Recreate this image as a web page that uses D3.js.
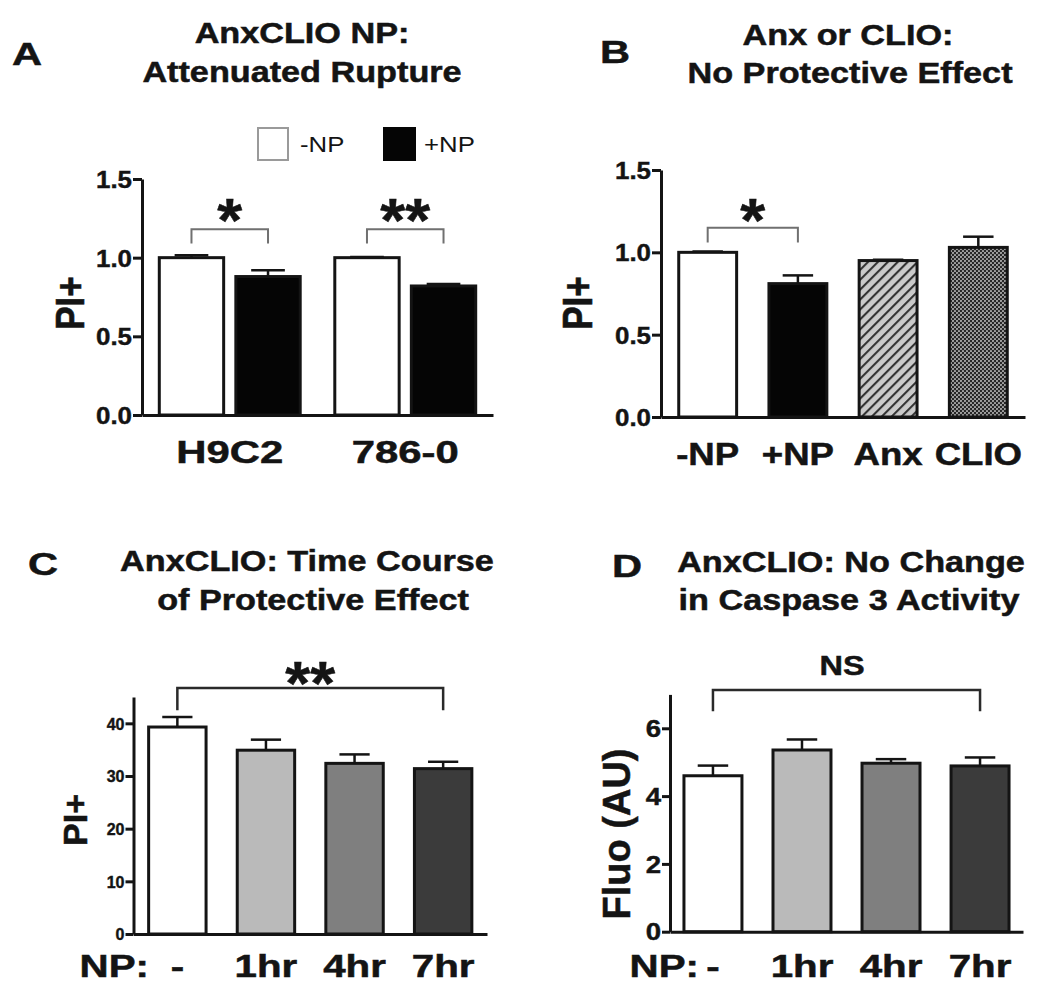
<!DOCTYPE html>
<html>
<head>
<meta charset="utf-8">
<script src="https://cdnjs.cloudflare.com/ajax/libs/d3/7.8.5/d3.min.js"></script>
<style>
  body { margin: 0; background: #fff; }
  svg { display: block; font-family: 'Liberation Sans', Arial, sans-serif; }
</style>
</head>
<body>
<script>
// A: AnxCLIO NP, attenuated rupture
const cellLines = ['H9C2', '786-0'];
const npGroups = ['-NP', '+NP'];
const ruptureMinusNP = [1.0, 1.0];
const ruptureMinusErr = [0.015, 0.005];
const rupturePlusNP = [0.88, 0.82];
const rupturePlusErr = [0.04, 0.012];
const ruptureTicks = [0, 0.5, 1.0, 1.5];

// B: Anx or CLIO alone
const controlLabels = ['-NP', '+NP', 'Anx', 'CLIO'];
const controlMeans = [1.0, 0.81, 0.95, 1.03];
const controlErr = [0.005, 0.05, 0.005, 0.065];

// C: time course (PI+)
const timeLabels = ['-', '1hr', '4hr', '7hr'];
const piMeans = [39.3, 34.9, 32.4, 31.4];
const piErr = [1.9, 2.0, 1.7, 1.3];
const piTicks = [0, 10, 20, 30, 40];

// D: caspase 3 activity
const fluoMeans = [4.6, 5.36, 4.97, 4.89];
const fluoErr = [0.3, 0.31, 0.12, 0.25];
const fluoTicks = [0, 2, 4, 6];

const ink = '#141414';
const svg = d3.select('body').append('svg').attr('width', 1050).attr('height', 990);
svg.append('rect').attr('width', 1050).attr('height', 990).attr('fill', '#fff');

// fill patterns for panel B
const defs = svg.append('defs');
const hatch = defs.append('pattern').attr('id', 'hatch')
  .attr('patternUnits', 'userSpaceOnUse').attr('width', 7).attr('height', 7)
  .attr('patternTransform', 'rotate(45)');
hatch.append('rect').attr('width', 7).attr('height', 7).attr('fill', '#cacaca');
hatch.append('line').attr('x1', 1).attr('x2', 1).attr('y1', 0).attr('y2', 7)
  .attr('stroke', '#333').attr('stroke-width', 2.2);
const dots = defs.append('pattern').attr('id', 'dots')
  .attr('patternUnits', 'userSpaceOnUse').attr('width', 4).attr('height', 4);
dots.append('rect').attr('width', 4).attr('height', 4).attr('fill', '#262626');
dots.append('circle').attr('cx', 1).attr('cy', 1).attr('r', 1.1).attr('fill', '#a8a8a8');
dots.append('circle').attr('cx', 3).attr('cy', 3).attr('r', 1.1).attr('fill', '#a8a8a8');

function stretchText(g, x, y, str, size, sx, anchor, weight) {
  const t = g.append('text')
    .attr('transform', 'translate(' + x + ',' + y + ') scale(' + sx + ',1)')
    .attr('text-anchor', anchor || 'middle')
    .attr('font-size', size)
    .attr('font-weight', weight || 'bold')
    .attr('fill', ink)
    .text(str);
  if (weight !== 'normal') t.attr('stroke', ink).attr('stroke-width', 0.5);
  return t;
}

function yLabel(g, x, y, str, size, sy) {
  g.append('text')
    .attr('transform', 'translate(' + x + ',' + y + ') rotate(-90) scale(1,' + sy + ')')
    .attr('text-anchor', 'middle')
    .attr('dominant-baseline', 'central')
    .attr('font-size', size)
    .attr('font-weight', 'bold')
    .attr('fill', ink)
    .attr('stroke', ink).attr('stroke-width', 0.5)
    .text(str);
}

function yAxis(g, x, y, ticks, fmt, size, sx, tick) {
  const ax = g.append('g').attr('transform', 'translate(' + x + ',0)')
    .call(d3.axisLeft(y).tickValues(ticks).tickFormat(fmt)
      .tickSize(tick).tickSizeOuter(0).tickPadding(1));
  ax.attr('font-family', null);
  ax.select('.domain').attr('stroke', ink).attr('stroke-width', 3);
  ax.selectAll('.tick line').attr('stroke', ink).attr('stroke-width', 3);
  ax.selectAll('.tick text')
    .attr('font-size', size).attr('font-weight', 'bold').attr('fill', ink)
    .attr('stroke', ink).attr('stroke-width', 0.4)
    .attr('x', -(tick + 1) / sx).attr('dy', '0.36em')
    .attr('transform', 'scale(' + sx + ',1)');
}

function xAxis(g, y0, band, size, sx, offset) {
  const ax = g.append('g').attr('transform', 'translate(0,' + y0 + ')')
    .call(d3.axisBottom(band).tickSize(0).tickSizeOuter(0));
  ax.attr('font-family', null);
  ax.select('.domain').attr('stroke', ink).attr('stroke-width', 3);
  ax.selectAll('.tick text')
    .attr('font-size', size).attr('font-weight', 'bold').attr('fill', ink)
    .attr('stroke', ink).attr('stroke-width', 0.5)
    .attr('y', offset).attr('dy', 0)
    .attr('transform', 'scale(' + sx + ',1)');
}

// rows: {x, w, mean, err, fill}
function drawBars(g, rows, y) {
  g.selectAll(null).data(rows).enter().append('rect')
    .attr('x', (d) => d.x + 1.5)
    .attr('y', (d) => y(d.mean))
    .attr('width', (d) => d.w - 3)
    .attr('height', (d) => y(0) - y(d.mean))
    .attr('fill', (d) => d.fill)
    .attr('stroke', ink)
    .attr('stroke-width', 3);
  const eb = g.selectAll(null).data(rows).enter().append('g');
  eb.append('line')
    .attr('x1', (d) => d.x + d.w / 2).attr('x2', (d) => d.x + d.w / 2)
    .attr('y1', (d) => y(d.mean)).attr('y2', (d) => y(d.mean + d.err))
    .attr('stroke', ink).attr('stroke-width', 2.5);
  eb.append('line')
    .attr('x1', (d) => d.x + d.w / 4).attr('x2', (d) => d.x + d.w * 3 / 4)
    .attr('y1', (d) => y(d.mean + d.err)).attr('y2', (d) => y(d.mean + d.err))
    .attr('stroke', ink).attr('stroke-width', 2.5);
}

function bracket(g, x1, x2, yTop, yLeg, color, width) {
  g.append('path')
    .attr('d', 'M' + x1 + ',' + yLeg + 'V' + yTop + 'H' + x2 + 'V' + yLeg)
    .attr('fill', 'none').attr('stroke', color).attr('stroke-width', width);
}

// significance stars: glyph centre sits ~0.56em above the baseline
function stars(g, x, yCenter, str) {
  stretchText(g, x, yCenter + 34, str, 61, 1.05);
}

// ---------- Panel A ----------
const gA = svg.append('g');
const xA = d3.scaleBand().domain(cellLines).range([142, 493]).paddingInner(0.18).paddingOuter(0.09);
const xAIn = d3.scaleBand().domain(npGroups).range([0, xA.bandwidth()]).paddingInner(0.12);
const yA = d3.scaleLinear().domain([0, 1.5]).range([415, 179]);
const rowsA = [];
cellLines.forEach((c, i) => {
  rowsA.push({ x: xA(c) + xAIn('-NP'), w: xAIn.bandwidth(), mean: ruptureMinusNP[i], err: ruptureMinusErr[i], fill: '#fff' });
  rowsA.push({ x: xA(c) + xAIn('+NP'), w: xAIn.bandwidth(), mean: rupturePlusNP[i], err: rupturePlusErr[i], fill: '#050505' });
});
drawBars(gA, rowsA, yA);
yAxis(gA, 142, yA, ruptureTicks, d3.format('.1f'), 24, 1.08, 9);
xAxis(gA, 415, xA, 31, 1.35, 48);
yLabel(gA, 70, 303, 'PI+', 35, 1.15);
cellLines.forEach((c) => {
  const a = xA(c) + xAIn('-NP') + xAIn.bandwidth() / 2;
  const b = xA(c) + xAIn('+NP') + xAIn.bandwidth() / 2;
  bracket(gA, a, b, yA(1.18), yA(1.09), '#707070', 2);
});
stars(gA, (rowsA[0].x + rowsA[1].x + rowsA[1].w) / 2, 207, '*');
stars(gA, (rowsA[2].x + rowsA[3].x + rowsA[3].w) / 2, 207, '**');
stretchText(gA, 12, 65, 'A', 32, 1.3, 'start');
stretchText(gA, 302, 43, 'AnxCLIO NP:', 29, 1.18);
stretchText(gA, 302, 82, 'Attenuated Rupture', 29, 1.18);
// legend
gA.append('rect').attr('x', 258).attr('y', 128).attr('width', 30).attr('height', 32)
  .attr('fill', '#fff').attr('stroke', '#9a9a9a').attr('stroke-width', 2);
stretchText(gA, 300, 152, npGroups[0], 23, 1.12, 'start', 'normal');
gA.append('rect').attr('x', 383).attr('y', 127).attr('width', 33).attr('height', 34).attr('fill', '#050505');
stretchText(gA, 424, 152, npGroups[1], 23, 1.12, 'start', 'normal');

// ---------- Panel B ----------
const gB = svg.append('g');
const xB = d3.scaleBand().domain(controlLabels).range([661, 1025]).paddingInner(0.325).paddingOuter(0.18);
const yB = d3.scaleLinear().domain([0, 1.5]).range([417, 170]);
const fillsB = ['#fff', '#050505', 'url(#hatch)', 'url(#dots)'];
const rowsB = controlLabels.map((c, i) => ({ x: xB(c), w: xB.bandwidth(), mean: controlMeans[i], err: controlErr[i], fill: fillsB[i] }));
drawBars(gB, rowsB, yB);
yAxis(gB, 661, yB, ruptureTicks, d3.format('.1f'), 24, 1.08, 9);
xAxis(gB, 417, xB, 31, 1.18, 48);
yLabel(gB, 577, 303, 'PI+', 35, 1.2);
bracket(gB, xB('-NP') + xB.bandwidth() / 2, xB('+NP') + xB.bandwidth() / 2, yB(1.15), yB(1.06), '#707070', 2);
stars(gB, (xB('-NP') + xB('+NP') + xB.bandwidth()) / 2, 207, '*');
stretchText(gB, 600, 63, 'B', 32, 1.3, 'start');
stretchText(gB, 848, 45, 'Anx or CLIO:', 29, 1.18);
stretchText(gB, 850, 83, 'No Protective Effect', 29, 1.18);

// ---------- Panel C ----------
const greys = ['#fff', '#bababa', '#7f7f7f', '#3b3b3b'];
const gC = svg.append('g');
const xC = d3.scaleBand().domain(timeLabels).range([133.5, 487]).paddingInner(0.318).paddingOuter(0.154);
const yC = d3.scaleLinear().domain([0, 45]).range([934, 697]);
const rowsC = timeLabels.map((c, i) => ({ x: xC(c), w: xC.bandwidth(), mean: piMeans[i], err: piErr[i], fill: greys[i] }));
drawBars(gC, rowsC, yC);
yAxis(gC, 133.5, yC, piTicks, d3.format('d'), 16, 1.0, 8);
xAxis(gC, 934, xC, 31, 1.3, 43);
stretchText(gC, 149, 977, 'NP:', 31, 1.3, 'end');
yLabel(gC, 75, 820, 'PI+', 34, 1.0);
bracket(gC, xC('-') + xC.bandwidth() / 2, xC('7hr') + xC.bandwidth() / 2, yC(46.7), yC(42.5), '#2a2a2a', 2.5);
stars(gC, (xC('-') + xC('7hr') + xC.bandwidth()) / 2, 670, '**');
stretchText(gC, 28, 575, 'C', 32, 1.3, 'start');
stretchText(gC, 307, 571, 'AnxCLIO: Time Course', 29, 1.18);
stretchText(gC, 313, 610, 'of Protective Effect', 29, 1.18);

// ---------- Panel D ----------
const gD = svg.append('g');
const xD = d3.scaleBand().domain(timeLabels).range([670, 1023]).paddingInner(0.315).paddingOuter(0.14);
const yD = d3.scaleLinear().domain([0, 7]).range([931.7, 694.4]);
const rowsD = timeLabels.map((c, i) => ({ x: xD(c), w: xD.bandwidth(), mean: fluoMeans[i], err: fluoErr[i], fill: greys[i] }));
drawBars(gD, rowsD, yD);
yAxis(gD, 670, yD, fluoTicks, d3.format('d'), 23, 1.2, 8);
xAxis(gD, 931.7, xD, 31, 1.3, 45);
stretchText(gD, 699, 977, 'NP:', 31, 1.3, 'end');
yLabel(gD, 617, 834, 'Fluo (AU)', 38, 1.0);
bracket(gD, xD('-') + xD.bandwidth() / 2, xD('7hr') + xD.bandwidth() / 2, yD(7.13), yD(6.5), '#2a2a2a', 2.5);
stretchText(gD, 842, 675, 'NS', 28, 1.16);
stretchText(gD, 612, 577, 'D', 32, 1.3, 'start');
stretchText(gD, 851, 572, 'AnxCLIO: No Change', 29, 1.18);
stretchText(gD, 849, 610, 'in Caspase 3 Activity', 29, 1.18);
</script>
</body>
</html>
